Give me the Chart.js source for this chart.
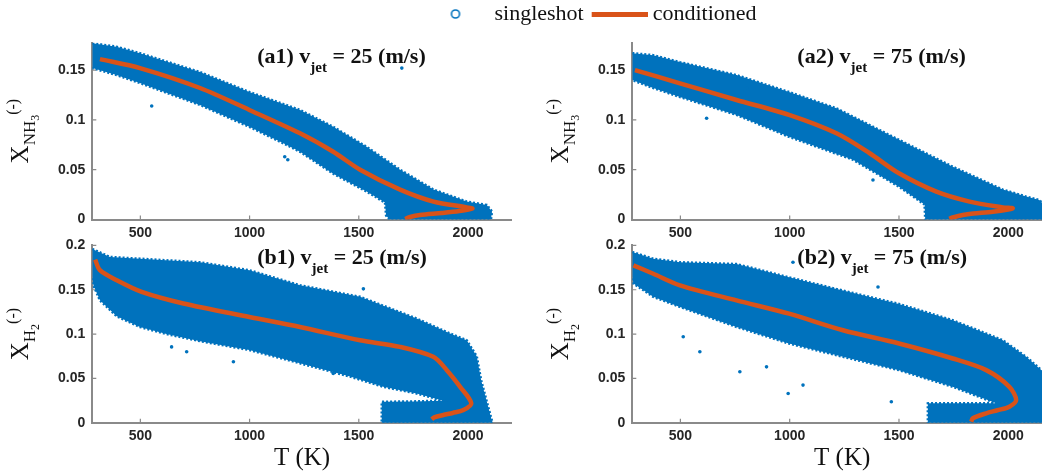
<!DOCTYPE html>
<html>
<head>
<meta charset="utf-8">
<script src="https://cdn.jsdelivr.net/npm/chart.js@4/dist/chart.umd.min.js"></script>
<style>
html,body{margin:0;padding:0;background:#fff;}
body{width:1042px;height:473px;position:relative;overflow:hidden;}
canvas{position:absolute;}
</style>
</head>
<body>
<canvas id="legend" width="1042" height="60" style="left:0;top:1px"></canvas>
<canvas id="a1" width="520" height="250" style="left:0;top:0"></canvas>
<canvas id="a2" width="540" height="250" style="left:520px;top:0"></canvas>
<canvas id="b1" width="520" height="243" style="left:0;top:230px"></canvas>
<canvas id="b2" width="540" height="243" style="left:520px;top:230px"></canvas>
<script>
// axes
const xTicks = [500, 1000, 1500, 2000]
const yTicksA = [0, 0.05, 0.1, 0.15]
const yTicksB = [0, 0.05, 0.1, 0.15, 0.2]

// (a1) NH3, v_jet = 25
const a1CloudT = [280, 391, 498, 773, 999, 1231, 1383, 1536, 1689, 1842, 1994, 2086, 2110, 2105, 1640, 1625, 1620, 1536, 1383, 1231, 1155, 999, 773, 498, 391, 280]
const a1CloudX = [0.177, 0.1735, 0.167, 0.148, 0.128, 0.110, 0.093, 0.073, 0.050, 0.030, 0.018, 0.0146, 0.008, 0, 0, 0.004, 0.017, 0.028, 0.046, 0.068, 0.0765, 0.093, 0.115, 0.137, 0.145, 0.152]
const a1DotsT = [552, 1697, 1161, 1175]
const a1DotsX = [0.114, 0.152, 0.063, 0.060]
const a1CondT = [315, 498, 773, 999, 1231, 1383, 1506, 1689, 1842, 1994, 2020, 1960, 1880, 1780, 1735, 1712]
const a1CondX = [0.161, 0.152, 0.132, 0.110, 0.0865, 0.068, 0.050, 0.030, 0.018, 0.0122, 0.011, 0.0085, 0.0065, 0.0045, 0.0025, 0.0005]

// (a2) NH3, v_jet = 75
const a2CloudT = [280, 376, 498, 757, 997, 1214, 1500, 1746, 1975, 2082, 2142, 2175, 2185, 1620, 1617, 1500, 1290, 997, 757, 498, 376, 280]
const a2CloudX = [0.167, 0.165, 0.158, 0.145, 0.128, 0.1116, 0.080, 0.053, 0.030, 0.023, 0.0196, 0.012, 0, 0, 0.015, 0.033, 0.060, 0.083, 0.105, 0.123, 0.132, 0.140]
const a2DotsT = [803, 620, 1381, 1560]
const a2DotsX = [0.132, 0.1016, 0.0397, 0.030]
const a2CondT = [292, 498, 757, 997, 1214, 1366, 1500, 1671, 1823, 1975, 2020, 1929, 1840, 1792, 1746, 1730]
const a2CondX = [0.150, 0.1367, 0.120, 0.105, 0.0865, 0.0665, 0.0464, 0.028, 0.018, 0.0122, 0.0112, 0.0078, 0.006, 0.0045, 0.002, 0.0007]

// (b1) H2, v_jet = 25
const b1CloudT = [280, 361, 498, 773, 999, 1231, 1506, 1765, 1918, 1994, 2040, 2060, 2090, 2112, 1605, 1605, 1750, 1887, 1765, 1612, 1460, 1231, 999, 773, 620, 498, 392, 315, 285, 280]
const b1CloudX = [0.196, 0.187, 0.185, 0.181, 0.172, 0.155, 0.142, 0.1175, 0.1006, 0.093, 0.075, 0.048, 0.020, 0, 0, 0.0236, 0.024, 0.0248, 0.033, 0.0405, 0.052, 0.067, 0.082, 0.092, 0.100, 0.108, 0.120, 0.138, 0.155, 0.165]
const b1DotsT = [643, 926, 1383, 1521, 712]
const b1DotsX = [0.0855, 0.0687, 0.0556, 0.151, 0.080]
const b1CondT = [293, 315, 392, 506, 697, 999, 1231, 1506, 1689, 1841, 1903, 1964, 2015, 1979, 1930, 1887, 1845, 1834]
const b1CondX = [0.184, 0.172, 0.1606, 0.1475, 0.1344, 0.1193, 0.108, 0.093, 0.0855, 0.0743, 0.0593, 0.0405, 0.022, 0.0143, 0.011, 0.0087, 0.006, 0.0038]

// (b2) H2, v_jet = 75
const b2CloudT = [280, 376, 498, 757, 997, 1244, 1500, 1746, 1975, 2082, 2152, 2185, 2195, 1632, 1632, 1800, 1945, 1746, 1500, 1244, 997, 757, 498, 376, 285, 280]
const b2CloudX = [0.1925, 0.185, 0.181, 0.179, 0.164, 0.149, 0.134, 0.1156, 0.093, 0.0743, 0.0593, 0.045, 0, 0, 0.0218, 0.022, 0.0218, 0.0405, 0.0593, 0.0743, 0.0893, 0.108, 0.1306, 0.142, 0.157, 0.165]
const b2DotsT = [513, 589, 772, 894, 993, 1061, 1465, 1015, 1404]
const b2DotsX = [0.097, 0.080, 0.0574, 0.063, 0.033, 0.0424, 0.0236, 0.181, 0.153]
const b2CondT = [285, 376, 498, 757, 997, 1244, 1500, 1746, 1899, 2005, 2036, 2005, 1950, 1899, 1838, 1830]
const b2CondX = [0.1775, 0.168, 0.155, 0.138, 0.123, 0.1043, 0.0893, 0.0724, 0.0593, 0.0405, 0.0255, 0.018, 0.014, 0.0106, 0.005, 0.001]

const BLUE = "#0072BD"
const ORANGE = "#D95319"
const AXIS = "#8a8a8a"
const TICK = "#262626"
const SERIF = "'Liberation Serif', 'Times New Roman', serif"
const SANS = "'Liberation Sans', Arial, sans-serif"

const pts = (T, X) => T.map((t, i) => ({x: t, y: X[i]}))

// text with sub/superscripts, drawn on the chart canvas
function drawRich(ctx, segs, x, y, rot, align) {
  ctx.save()
  ctx.translate(x, y)
  ctx.rotate(rot)
  ctx.textBaseline = "alphabetic"
  ctx.textAlign = "left"
  let total = 0
  segs.forEach(s => {
    ctx.font = (s.bold ? "bold " : "") + s.size + "px " + SERIF
    total += ctx.measureText(s.t).width
  })
  let cx = align === "center" ? -total / 2 : 0
  segs.forEach(s => {
    ctx.font = (s.bold ? "bold " : "") + s.size + "px " + SERIF
    ctx.fillStyle = "#111"
    ctx.fillText(s.t, cx, s.dy || 0)
    cx += ctx.measureText(s.t).width
  })
  ctx.restore()
}

const richText = {
  id: "richText",
  afterDraw(chart, args, opts) {
    const {ctx, chartArea, scales} = chart
    drawRich(ctx, opts.yTitle, opts.yTitleX, (chartArea.top + chartArea.bottom) / 2, -Math.PI / 2, "center")
    drawRich(ctx, opts.label, scales.x.getPixelForValue(opts.labelAt[0]), scales.y.getPixelForValue(opts.labelAt[1]), 0, "left")
  }
}

// matlab style inward ticks
const inTicks = {
  id: "inTicks",
  beforeDatasetsDraw(chart) {
    const {ctx, chartArea, scales} = chart
    ctx.save()
    ctx.strokeStyle = AXIS
    ctx.lineWidth = 1.2
    ctx.beginPath()
    scales.x.ticks.forEach(t => {
      const px = scales.x.getPixelForValue(t.value)
      ctx.moveTo(px, chartArea.bottom)
      ctx.lineTo(px, chartArea.bottom - 4)
    })
    scales.y.ticks.forEach(t => {
      const py = scales.y.getPixelForValue(t.value)
      ctx.moveTo(chartArea.left, py)
      ctx.lineTo(chartArea.left + 4, py)
    })
    ctx.stroke()
    ctx.restore()
  }
}

function panel(id, cloudT, cloudX, dotsT, dotsX, condT, condX, o) {
  new Chart(document.getElementById(id), {
    type: "scatter",
    data: {
      datasets: [
        {label: "conditioned", data: pts(condT, condX), showLine: true, borderColor: ORANGE, borderWidth: 4.5, pointRadius: 0, tension: 0.3, order: 0},
        {label: "singleshot", data: pts(dotsT, dotsX), pointRadius: 1.8, backgroundColor: BLUE, borderWidth: 0, order: 1},
        {label: "singleshot", data: pts(cloudT, cloudX), showLine: true, fill: "shape", backgroundColor: BLUE, borderColor: BLUE, borderWidth: 2.5, borderDash: [2, 2], pointRadius: 0, order: 2}
      ]
    },
    options: {
      responsive: false,
      animation: false,
      events: [],
      layout: {padding: o.padding},
      plugins: {
        legend: {display: false},
        tooltip: {enabled: false},
        richText: {yTitle: o.yTitle, yTitleX: o.yTitleX, label: o.label, labelAt: o.labelAt}
      },
      scales: {
        x: {
          type: "linear", min: 280, max: 2200,
          afterBuildTicks: s => { s.ticks = xTicks.map(v => ({value: v})) },
          afterFit: s => { s.height = o.xHeight },
          grid: {display: false, drawTicks: false},
          border: {display: true, color: AXIS, width: 2},
          ticks: {color: TICK, padding: 5, maxRotation: 0, font: {family: SANS, size: 14, weight: "bold"}, callback: v => String(v)},
          title: {display: o.xTitle, text: "T (K)", color: "#111", padding: {top: 13, bottom: 0}, font: {family: SERIF, size: 25}}
        },
        y: {
          type: "linear", min: 0, max: o.yMax,
          afterBuildTicks: s => { s.ticks = o.yTicks.map(v => ({value: v})) },
          afterFit: s => { s.width = o.yWidth },
          grid: {display: false, drawTicks: false},
          border: {display: true, color: AXIS, width: 2},
          ticks: {color: TICK, padding: 7, font: {family: SANS, size: 14, weight: "bold"}, callback: v => String(+v.toFixed(3))}
        }
      }
    },
    plugins: [richText, inTicks]
  })
}

const titleNH3 = [{t: "X", size: 25}, {t: "NH", size: 17, dy: 7}, {t: "3", size: 12, dy: 11}, {t: "(-)", size: 16, dy: -10}]
const titleH2 = [{t: "X", size: 25}, {t: "H", size: 17, dy: 7}, {t: "2", size: 12, dy: 11}, {t: "(-)", size: 16, dy: -10}]
const label = (tag, v) => [{t: "(" + tag + ") v", size: 22, bold: true}, {t: "jet", size: 15, bold: true, dy: 9}, {t: " = " + v + " (m/s)", size: 22, bold: true}]

panel("a1", a1CloudT, a1CloudX, a1DotsT, a1DotsX, a1CondT, a1CondX, {
  padding: {top: 42.7, right: 8.3, left: 0, bottom: 0}, xHeight: 30.5, yWidth: 92.3, yMax: 0.1775, yTicks: yTicksA,
  xTitle: false, yTitle: titleNH3, yTitleX: 28, label: label("a1", 25), labelAt: [1035, 0.157]
})
panel("a2", a2CloudT, a2CloudX, a2DotsT, a2DotsX, a2CondT, a2CondX, {
  padding: {top: 42.7, right: 8, left: 0, bottom: 0}, xHeight: 30.5, yWidth: 112.3, yMax: 0.1775, yTicks: yTicksA,
  xTitle: false, yTitle: titleNH3, yTitleX: 48, label: label("a2", 75), labelAt: [1035, 0.157]
})
panel("b1", b1CloudT, b1CloudX, b1DotsT, b1DotsX, b1CondT, b1CondX, {
  padding: {top: 15, right: 8.3, left: 0, bottom: 0}, xHeight: 50.3, yWidth: 92.3, yMax: 0.2, yTicks: yTicksB,
  xTitle: true, yTitle: titleH2, yTitleX: 28, label: label("b1", 25), labelAt: [1035, 0.179]
})
panel("b2", b2CloudT, b2CloudX, b2DotsT, b2DotsX, b2CondT, b2CondX, {
  padding: {top: 15, right: 8, left: 0, bottom: 0}, xHeight: 50.3, yWidth: 112.3, yMax: 0.2, yTicks: yTicksB,
  xTitle: true, yTitle: titleH2, yTitleX: 48, label: label("b2", 75), labelAt: [1035, 0.179]
})

// legend marks as small images
const circleImg = document.createElement("canvas")
circleImg.width = 12; circleImg.height = 12
let c = circleImg.getContext("2d")
c.strokeStyle = BLUE; c.lineWidth = 1.6
c.beginPath(); c.arc(6, 6, 4, 0, Math.PI * 2); c.stroke()

const lineImg = document.createElement("canvas")
lineImg.width = 68; lineImg.height = 5
c = lineImg.getContext("2d")
c.fillStyle = ORANGE; c.fillRect(12, 0, 56, 5)

new Chart(document.getElementById("legend"), {
  type: "scatter",
  data: {
    datasets: [
      {label: "singleshot", data: [], pointStyle: circleImg, borderColor: BLUE},
      {label: "conditioned", data: [], pointStyle: lineImg, borderColor: ORANGE}
    ]
  },
  options: {
    responsive: false,
    animation: false,
    events: [],
    layout: {padding: {left: 142}},
    scales: {x: {display: false}, y: {display: false}},
    plugins: {
      tooltip: {enabled: false},
      legend: {
        display: true,
        labels: {usePointStyle: true, pointStyleWidth: 56, padding: 2, color: "#111", font: {family: SERIF, size: 22}}
      }
    }
  }
})
</script>
</body>
</html>
